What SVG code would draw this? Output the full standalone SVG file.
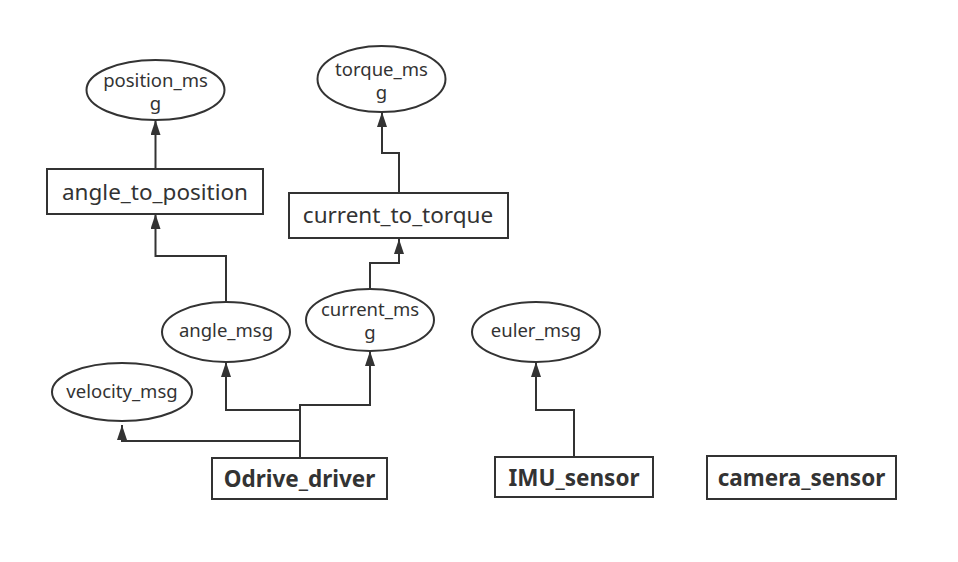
<svg xmlns="http://www.w3.org/2000/svg" width="958" height="562" viewBox="0 0 958 562">
<style>
.n{fill:#fff;stroke:#333;stroke-width:2}
.t{font-family:"Noto Sans","Open Sans","Liberation Sans",sans-serif;fill:#333;text-anchor:middle}
.s{font-size:18.5px}
.m{font-size:22.5px}
.b{font-size:22.5px;font-weight:bold}
.c{fill:none;stroke:#333;stroke-width:2;marker-end:url(#a)}
</style>
<defs>
<marker id="a" markerWidth="15" markerHeight="10" refX="15" refY="5" orient="auto" markerUnits="userSpaceOnUse" viewBox="0 0 15 10">
<path d="M0 0 L15 5 L0 10 Z" fill="#333"/>
</marker>
</defs>
<rect width="958" height="562" fill="#fff"/>
<g id="connectors">
<path class="c" d="M155.5 168 V120"/>
<path class="c" d="M226 302 V256 H155.5 V214"/>
<path class="c" d="M399 193 V153 H382 V112"/>
<path class="c" d="M370 288 V263 H399 V239"/>
<path class="c" d="M300 458 V410 H226 V362"/>
<path class="c" d="M300 410 V405 H370 V351"/>
<path class="c" d="M300 441 H122 V425"/>
<path class="c" d="M574 457 V410 H536 V362"/>
</g>
<g id="position_msg">
<ellipse class="n" cx="155.5" cy="90" rx="69" ry="30"/>
<text class="t s" x="155.5" y="87">position_ms</text>
<text class="t s" x="155.5" y="110">g</text>
</g>
<g id="angle_to_position">
<rect class="n" x="47" y="169" width="216" height="45"/>
<text class="t m" x="155" y="200">angle_to_position</text>
</g>
<g id="torque_msg">
<ellipse class="n" cx="381.5" cy="79" rx="64" ry="33"/>
<text class="t s" x="381.5" y="76">torque_ms</text>
<text class="t s" x="381.5" y="99">g</text>
</g>
<g id="current_to_torque">
<rect class="n" x="289" y="193" width="219" height="45"/>
<text class="t m" x="398" y="223">current_to_torque</text>
</g>
<g id="angle_msg">
<ellipse class="n" cx="226" cy="332" rx="64" ry="30"/>
<text class="t s" x="226" y="337">angle_msg</text>
</g>
<g id="current_msg">
<ellipse class="n" cx="370" cy="320" rx="64" ry="31"/>
<text class="t s" x="370" y="316">current_ms</text>
<text class="t s" x="370" y="339">g</text>
</g>
<g id="velocity_msg">
<ellipse class="n" cx="122" cy="392" rx="70" ry="29"/>
<text class="t s" x="122" y="398">velocity_msg</text>
</g>
<g id="euler_msg">
<ellipse class="n" cx="536" cy="332" rx="64" ry="30"/>
<text class="t s" x="536" y="337">euler_msg</text>
</g>
<g id="Odrive_driver">
<rect class="n" x="212" y="458" width="175" height="41"/>
<text class="t b" x="299.5" y="487">Odrive_driver</text>
</g>
<g id="IMU_sensor">
<rect class="n" x="495" y="457" width="158" height="40"/>
<text class="t b" x="574" y="486">IMU_sensor</text>
</g>
<g id="camera_sensor">
<rect class="n" x="707" y="456" width="189" height="43"/>
<text class="t b" x="801.5" y="486">camera_sensor</text>
</g>
</svg>
